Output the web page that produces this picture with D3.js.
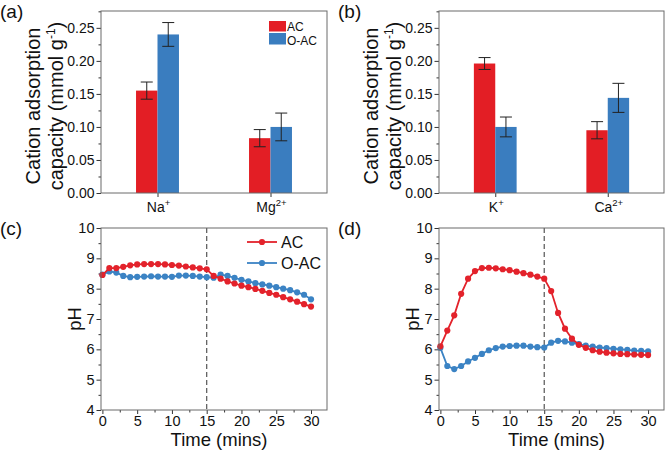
<!DOCTYPE html>
<html>
<head>
<meta charset="utf-8">
<script src="https://cdn.jsdelivr.net/npm/d3@7"></script>
<style>
  body { margin: 0; background: #fff; }
  svg { font-family: "Liberation Sans", Arial, sans-serif; }
</style>
</head>
<body>
<script>
// bar panels (a) and (b)
var catsA = ["Na", "Mg"], supA = ["+", "2+"];
var acA = [0.155, 0.083], acAErr = [0.013, 0.013];
var oacA = [0.240, 0.100], oacAErr = [0.018, 0.021];

var catsB = ["K", "Ca"], supB = ["+", "2+"];
var acB = [0.196, 0.095], acBErr = [0.009, 0.013];
var oacB = [0.100, 0.144], oacBErr = [0.015, 0.022];

var barTicks = [0, 0.05, 0.10, 0.15, 0.20, 0.25];

// pH panels (c) and (d)
var times = [0,1,2,3,4,5,6,7,8,9,10,11,12,13,14,15,16,17,18,19,20,21,22,23,24,25,26,27,28,29,30];
var acC = [8.45,8.68,8.68,8.72,8.77,8.80,8.81,8.81,8.81,8.80,8.78,8.76,8.73,8.70,8.67,8.64,
           8.42,8.33,8.24,8.17,8.10,8.05,7.99,7.93,7.86,7.80,7.72,7.65,7.57,7.49,7.41];
var oacC = [8.46,8.57,8.53,8.42,8.38,8.39,8.40,8.41,8.40,8.40,8.39,8.43,8.43,8.42,8.40,8.38,
            8.36,8.46,8.42,8.36,8.29,8.24,8.18,8.14,8.10,8.05,8.00,7.95,7.88,7.80,7.65];
var acD = [6.10,6.62,7.12,7.83,8.33,8.58,8.68,8.69,8.67,8.64,8.61,8.56,8.51,8.46,8.40,8.33,
           7.92,7.20,6.68,6.35,6.15,6.05,5.97,5.92,5.89,5.87,5.85,5.84,5.83,5.82,5.81];
var oacD = [6.05,5.45,5.35,5.45,5.60,5.72,5.85,5.97,6.04,6.09,6.11,6.12,6.12,6.09,6.07,6.06,
            6.22,6.28,6.26,6.22,6.17,6.12,6.09,6.06,6.04,6.02,6.00,5.98,5.96,5.95,5.93];
var phTicks = [4, 5, 6, 7, 8, 9, 10];
var timeTicks = [0, 5, 10, 15, 20, 25, 30];
var switchTime = 15;

var RED = "#e31e25", BLUE = "#3a7dbf";
var LRED = "#e3222b", LBLUE = "#3b83c4";
var FRAME = "#6a6a6a";

var svg = d3.select("body").append("svg")
    .attr("width", 666)
    .attr("height", 451);

function frame(g, L, R, T, B) {
    g.append("rect")
        .attr("x", L).attr("y", T)
        .attr("width", R - L).attr("height", B - T)
        .attr("fill", "none").attr("stroke", FRAME).attr("stroke-width", 1);
}

function styleAxis(a) {
    a.select(".domain").remove();
    a.selectAll("line").attr("stroke", "#333");
    a.selectAll("text").attr("fill", "#111").style("font-size", "14px");
}

function panelLabel(txt, x, y) {
    svg.append("text").attr("x", x).attr("y", y)
        .style("font-size", "19px").attr("fill", "#111").text(txt);
}

function barPanel(L, R, T, B, cats, sups, ac, acErr, oac, oacErr, label, legend) {
    var g = svg.append("g");
    var x = d3.scaleLinear().domain([0.5, 2.5]).range([L, R]);
    var y = d3.scaleLinear().domain([0, 0.2755]).range([B, T]);
    var bw = 0.19;

    // minor y ticks
    var minor = d3.range(0.025, 0.28, 0.05);
    var ym = g.append("g").attr("transform", "translate(" + L + ",0)")
        .call(d3.axisLeft(y).tickValues(minor).tickSize(2.5).tickFormat(""));
    styleAxis(ym);
    var ya = g.append("g").attr("transform", "translate(" + L + ",0)")
        .call(d3.axisLeft(y).tickValues(barTicks).tickSize(4.5).tickPadding(2)
        .tickFormat(d3.format(".2f")));
    styleAxis(ya);

    var xa = g.append("g").attr("transform", "translate(0," + B + ")")
        .call(d3.axisBottom(x).tickValues([1, 2]).tickSize(4).tickFormat(""));
    styleAxis(xa);

    cats.forEach(function(c, i) {
        var t = g.append("text").attr("x", x(i + 1) + 1).attr("y", B + 19)
            .attr("text-anchor", "middle").style("font-size", "14px").attr("fill", "#111");
        t.append("tspan").text(c);
        t.append("tspan").attr("dy", -6).style("font-size", "9.5px").text(sups[i]);
    });

    var series = [
        {vals: ac, err: acErr, col: RED, off: -bw},
        {vals: oac, err: oacErr, col: BLUE, off: 0}
    ];
    series.forEach(function(s) {
        g.selectAll(null).data(s.vals).enter().append("rect")
            .attr("x", function(d, i) { return x(i + 1 + s.off); })
            .attr("width", x(bw) - x(0))
            .attr("y", function(d) { return y(d); })
            .attr("height", function(d) { return B - y(d); })
            .attr("fill", s.col);
        s.vals.forEach(function(v, i) {
            var cx = x(i + 1 + s.off + bw / 2);
            var e = s.err[i];
            var eg = g.append("g").attr("stroke", "#222").attr("stroke-width", 1);
            eg.append("line").attr("x1", cx).attr("x2", cx).attr("y1", y(v - e)).attr("y2", y(v + e));
            eg.append("line").attr("x1", cx - 6).attr("x2", cx + 6).attr("y1", y(v - e)).attr("y2", y(v - e));
            eg.append("line").attr("x1", cx - 6).attr("x2", cx + 6).attr("y1", y(v + e)).attr("y2", y(v + e));
        });
    });

    frame(g, L, R, T, B);

    var cy = (T + B) / 2 + 4;
    g.append("text")
        .attr("transform", "translate(" + (L - 61) + "," + cy + ") rotate(-90)")
        .attr("text-anchor", "middle").style("font-size", "20px").attr("fill", "#111")
        .text("Cation adsorption");
    var yl2 = g.append("text")
        .attr("transform", "translate(" + (L - 38) + "," + cy + ") rotate(-90)")
        .attr("text-anchor", "middle").style("font-size", "20px").attr("fill", "#111");
    yl2.append("tspan").text("capacity (mmol g");
    yl2.append("tspan").attr("dy", -8).style("font-size", "12px").text("-1");
    yl2.append("tspan").attr("dy", 8).text(")");

    panelLabel(label, L - 101, T + 7);

    if (legend) {
        var lx = R - 58;
        g.append("rect").attr("x", lx).attr("y", T + 10).attr("width", 17).attr("height", 10.5).attr("fill", RED);
        g.append("rect").attr("x", lx).attr("y", T + 22).attr("width", 17).attr("height", 11.5).attr("fill", BLUE);
        g.append("text").attr("x", lx + 18).attr("y", T + 19.5).style("font-size", "12px").attr("fill", "#111").text("AC");
        g.append("text").attr("x", lx + 18).attr("y", T + 33.5).style("font-size", "12px").attr("fill", "#111").text("O-AC");
    }
}

function phPanel(L, R, T, B, ac, oac, label, legend) {
    var g = svg.append("g");
    var x = d3.scaleLinear().domain([-0.2, 32.3]).range([L, R]);
    var y = d3.scaleLinear().domain([4, 10]).range([B, T]);

    var xm = g.append("g").attr("transform", "translate(0," + B + ")")
        .call(d3.axisBottom(x).tickValues(d3.range(2.5, 30, 5)).tickSize(2.5).tickFormat(""));
    styleAxis(xm);
    var xa = g.append("g").attr("transform", "translate(0," + B + ")")
        .call(d3.axisBottom(x).tickValues(timeTicks).tickSize(4).tickPadding(2)
        .tickFormat(d3.format("d")));
    styleAxis(xa);
    xa.selectAll("text").style("font-size", "14.5px");

    var ym = g.append("g").attr("transform", "translate(" + L + ",0)")
        .call(d3.axisLeft(y).tickValues(d3.range(4.5, 10, 1)).tickSize(2.5).tickFormat(""));
    styleAxis(ym);
    var ya = g.append("g").attr("transform", "translate(" + L + ",0)")
        .call(d3.axisLeft(y).tickValues(phTicks).tickSize(4.5).tickPadding(2)
        .tickFormat(d3.format("d")));
    styleAxis(ya);
    ya.selectAll("text").style("font-size", "14.5px");

    g.append("line")
        .attr("x1", x(switchTime)).attr("x2", x(switchTime))
        .attr("y1", T).attr("y2", B)
        .attr("stroke", "#555").attr("stroke-width", 1.2).attr("stroke-dasharray", "5,3");

    var line = d3.line().x(function(d, i) { return x(times[i]); }).y(function(d) { return y(d); });
    [{vals: oac, col: LBLUE}, {vals: ac, col: LRED}].forEach(function(s) {
        g.append("path").datum(s.vals).attr("d", line)
            .attr("fill", "none").attr("stroke", s.col).attr("stroke-width", 1.8);
        g.selectAll(null).data(s.vals).enter().append("circle")
            .attr("cx", function(d, i) { return x(times[i]); })
            .attr("cy", function(d) { return y(d); })
            .attr("r", 3.1).attr("fill", s.col);
    });

    frame(g, L, R, T, B);

    g.append("text").attr("x", (L + R) / 2 + 5).attr("y", B + 36)
        .attr("text-anchor", "middle").style("font-size", "18.5px").attr("fill", "#111")
        .text("Time (mins)");
    g.append("text")
        .attr("transform", "translate(" + (L - 20) + "," + ((T + B) / 2) + ") rotate(-90)")
        .attr("text-anchor", "middle").style("font-size", "18.5px").attr("fill", "#111")
        .text("pH");

    panelLabel(label, L - 101, T + 7);

    if (legend) {
        var items = [{t: "AC", col: LRED}, {t: "O-AC", col: LBLUE}];
        items.forEach(function(it, i) {
            var ly = T + 14 + i * 21;
            g.append("line").attr("x1", R - 80).attr("x2", R - 50).attr("y1", ly).attr("y2", ly)
                .attr("stroke", it.col).attr("stroke-width", 1.8);
            g.append("circle").attr("cx", R - 65).attr("cy", ly).attr("r", 3.1).attr("fill", it.col);
            g.append("text").attr("x", R - 46).attr("y", ly + 6).style("font-size", "16px")
                .attr("fill", "#111").text(it.t);
        });
    }
}

barPanel(101, 327, 11, 193, catsA, supA, acA, acAErr, oacA, oacAErr, "(a)", true);
barPanel(439, 664, 11, 193, catsB, supB, acB, acBErr, oacB, oacBErr, "(b)", false);
phPanel(101, 327, 228, 410, acC, oacC, "(c)", true);
phPanel(439, 664, 228, 410, acD, oacD, "(d)", false);
</script>
</body>
</html>
